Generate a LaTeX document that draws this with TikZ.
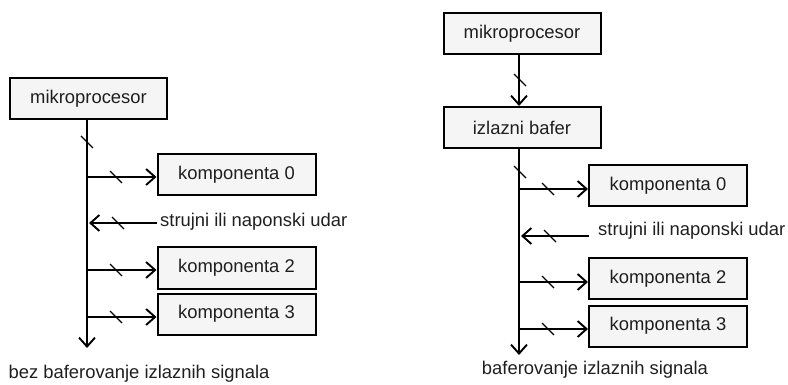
\documentclass[tikz,border=0pt]{standalone}
\usepackage{fontspec}
\setmainfont{Liberation Sans}
\usetikzlibrary{arrows.meta,calc}
\begin{document}
\begin{tikzpicture}[x=1pt,y=-1pt,
  every node/.style={font=\fontsize{18.4}{22}\selectfont, text=black!88},
  blockbox/.style={draw=black, line width=2pt, fill=black!4, minimum width=157pt, minimum height=41pt, inner sep=0pt},
  compbox/.style={draw=black, line width=2pt, fill=black!4, minimum width=158pt, minimum height=41pt, inner sep=0pt},
  wire/.style={line width=1.9pt},
  arr/.style={wire, -{Straight Barb[length=9pt,width=16pt,line width=1.9pt]}},
  slashmark/.style={line width=1.3pt}]
\useasboundingbox (0,0) rectangle (788,385);

% ---------- left diagram ----------
\node[blockbox] (mA) at (88.5,98.5) {mikroprocesor};
\node[compbox] (a0) at (236.5,174.5) {komponenta 0};
\node[compbox] (a2) at (236.5,268) {komponenta 2};
\node[compbox] (a3) at (236.5,314) {komponenta 3};
\node[anchor=west, inner sep=0pt] (aS) at (160,222) {strujni ili naponski udar};
\node[inner sep=0pt] (aL) at (139,374) {bez baferovanje izlaznih signala};
\coordinate (aEnd) at (87,348);

\draw[arr] (mA.south -| aEnd) -- (aEnd);
\draw[arr] ($(a0.west -| aEnd)+(0,2.5)$) -- ($(a0.west)+(0,2.5)$);
\draw[arr] ($(a2.west -| aEnd)+(0,2)$) -- ($(a2.west)+(0,2)$);
\draw[arr] ($(a3.west -| aEnd)+(0,3)$) -- ($(a3.west)+(0,3)$);
\draw[arr] ($(aS.west)+(-3,1)$) -- ($(aS.west -| aEnd)+(2,1)$);

\draw[slashmark] (81,136) -- (93,148);
\foreach \yy in {177,270,317} \draw[slashmark] (110,\yy-6) -- (122,\yy+6);
\draw[slashmark] (112,217) -- (124,229);

% ---------- right diagram ----------
\node[blockbox] (mB) at (522,33.5) {mikroprocesor};
\node[blockbox] (bf) at (522,127.5) {izlazni bafer};
\node[compbox] (b0) at (668,185.5) {komponenta 0};
\node[compbox] (b2) at (668,278.5) {komponenta 2};
\node[compbox] (b3) at (668,326) {komponenta 3};
\node[anchor=west, inner sep=0pt] (bS) at (598,231) {strujni ili naponski udar};
\node[inner sep=0pt] (bL) at (595,370) {baferovanje izlaznih signala};
\coordinate (bEnd) at (519,355);

\draw[arr] (mB.south -| bEnd) -- (bf.north -| bEnd);
\draw[arr] (bf.south -| bEnd) -- (bEnd);
\draw[arr] ($(b0.west -| bEnd)+(0,3.5)$) -- ($(b0.west)+(0,3.5)$);
\draw[arr] ($(b2.west -| bEnd)+(0,3.5)$) -- ($(b2.west)+(0,3.5)$);
\draw[arr] ($(b3.west -| bEnd)+(0,3)$) -- ($(b3.west)+(0,3)$);
\draw[arr] ($(bS.west)+(-9,5)$) -- ($(bS.west -| bEnd)+(2,5)$);

\draw[slashmark] (514,74) -- (526,86);
\draw[slashmark] (514,166) -- (526,178);
\foreach \yy in {189,282,329} \draw[slashmark] (542,\yy-6) -- (554,\yy+6);
\draw[slashmark] (544,230) -- (556,242);
\end{tikzpicture}
\end{document}
